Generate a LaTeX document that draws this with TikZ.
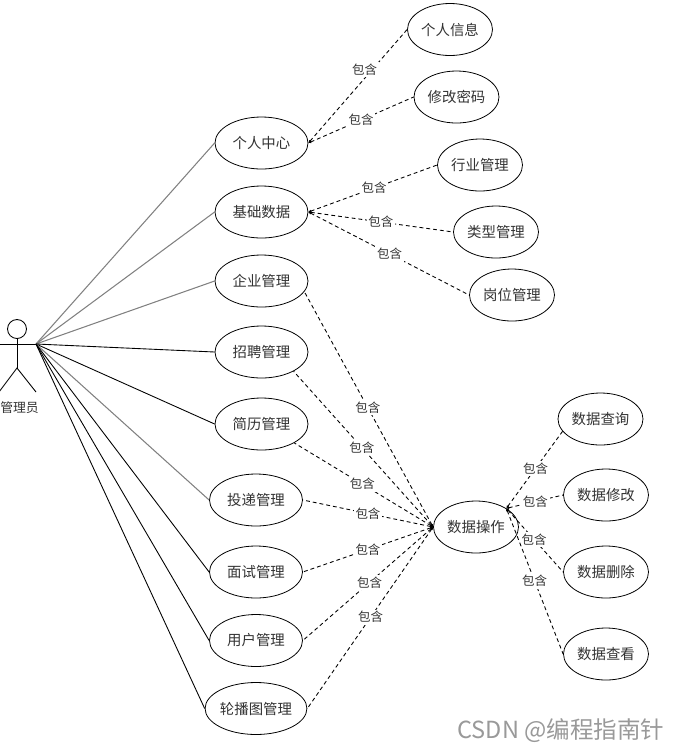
\documentclass[tikz,border=0pt]{standalone}
\usepackage{fontspec}
\setmainfont{Noto Sans CJK SC}
\usetikzlibrary{shapes,arrows.meta}
\definecolor{inkgray}{gray}{0.2}
\tikzstyle{usecase} = [ellipse, draw, fill=white, text=inkgray, font=\fontsize{8.2}{10}\selectfont,
    inner sep=0pt, minimum width=1.7cm, minimum height=1.04cm, line width=0.45pt]
\tikzstyle{bigcase} = [usecase, minimum width=1.86cm]
\tikzstyle{line} = [draw, line width=0.5pt]
\tikzstyle{grayline} = [line, black!50, line width=0.6pt]
\tikzstyle{incl} = [draw, dash pattern=on 2.2pt off 1.7pt, line width=0.5pt,
    {Latex[length=1.6pt,width=1.6pt]}-]
\tikzstyle{tag} = [fill=white, inner sep=1pt, text=inkgray, font=\fontsize{7.1}{9}\selectfont]

\begin{document}
\begin{tikzpicture}[x=0.02cm, y=-0.02cm]
    \useasboundingbox (0,0) rectangle (695,752);
    % actor
    \node [circle, draw, minimum size=0.38cm, inner sep=0pt, line width=0.5pt] (head) at (17,329) {};
    \coordinate (hip) at (17,368);
    \coordinate (armL) at (-3,344);
    \coordinate (armR) at (36,344);
    \coordinate (legL) at (-1,392);
    \coordinate (legR) at (36,392);
    \path [line] (head) -- (hip);
    \path [line] (armL) -- (armR);
    \path [line] (legL) -- (hip) -- (legR);
    \node [text=inkgray, font=\fontsize{7.3}{10}\selectfont, inner sep=0pt] (admin) at (19.5,408) {管理员};
    % left column
    \node [bigcase] (center) at (261.5,143) {个人中心};
    \node [bigcase] (basic) at (261.5,212) {基础数据};
    \node [bigcase] (firm) at (261.5,281) {企业管理};
    \node [bigcase] (hire) at (261.5,352) {招聘管理};
    \node [bigcase] (resume) at (261.5,424) {简历管理};
    \node [bigcase] (deliver) at (256,500) {投递管理};
    \node [bigcase] (interview) at (256,572) {面试管理};
    \node [bigcase] (user) at (256,640.5) {用户管理};
    \node [bigcase] (banner) at (256,708.5) {轮播图管理};
    % right side
    \node [usecase] (info) at (450,29.5) {个人信息};
    \node [usecase] (passwd) at (456.5,97) {修改密码};
    \node [usecase] (trade) at (480,165) {行业管理};
    \node [usecase] (kind) at (496,232) {类型管理};
    \node [usecase] (post) at (512,295) {岗位管理};
    \node [usecase] (data) at (476,527) {数据操作};
    \node [usecase] (query) at (600.5,419) {数据查询};
    \node [usecase] (modify) at (606,495) {数据修改};
    \node [usecase] (remove) at (606,572) {数据删除};
    \node [usecase] (look) at (606,654) {数据查看};
    % actor lines
    \path [grayline] (armR) -- (center.west);
    \path [grayline] (armR) -- (basic.west);
    \path [grayline] (armR) -- (firm.west);
    \path [line] (armR) -- (hire.west);
    \path [line] (armR) -- (resume.west);
    \path [grayline] (armR) -- (deliver.west);
    \path [line] (armR) -- (interview.west);
    \path [line] (armR) -- (user.west);
    \path [line] (armR) -- (banner.west);
    % includes
    \path [incl] (center.east) -- node [tag, pos=0.6, xshift=-0.06cm, yshift=0.1cm] (t1) {包含} (info.west);
    \path [incl] (center.east) -- node [tag, pos=0.5] (t2) {包含} (passwd.west);
    \path [incl] (basic.east) -- node [tag, pos=0.51] (t3) {包含} (trade.west);
    \path [incl] (basic.east) -- node [tag, pos=0.5] (t4) {包含} (kind.west);
    \path [incl] (basic.east) -- node [tag, pos=0.506] (t5) {包含} (post.west);
    \path [incl] (data.west) -- node [tag, pos=0.506] (t6) {包含} (firm.-14);
    \path [incl] (data.west) -- node [tag, pos=0.51] (t7) {包含} (hire.-31);
    \path [incl] (data.west) -- node [tag, pos=0.51] (t8) {包含} (resume.-30);
    \path [incl] (data.west) -- node [tag, pos=0.5] (t9) {包含} (deliver.east);
    \path [incl] (data.west) -- node [tag, pos=0.5] (t10) {包含} (interview.east);
    \path [incl] (data.west) -- node [tag, pos=0.487] (t11) {包含} (user.east);
    \path [incl] (data.west) -- node [tag, pos=0.497] (t12) {包含} (banner.east);
    \path [incl] (data.north east) -- node [tag, pos=0.52] (t13) {包含} (query.198);
    \path [incl] (data.north east) -- node [tag, pos=0.51] (t14) {包含} (modify.west);
    \path [incl] (data.north east) -- node [tag, pos=0.49] (t15) {包含} (remove.west);
    \path [incl] (data.north east) -- node [tag, pos=0.5] (t16) {包含} (look.west);
    % watermark
    \node [text=black!40, font=\fontsize{13.4}{15}\selectfont, inner sep=0pt] (mark) at (561,731) {CSDN @编程指南针};
\end{tikzpicture}
\end{document}
